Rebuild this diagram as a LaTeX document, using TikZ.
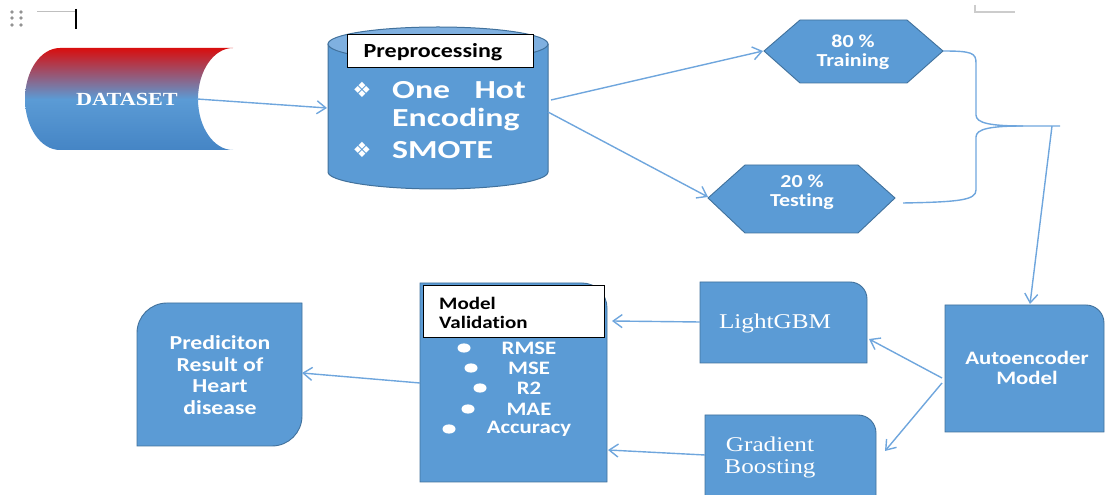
\documentclass[tikz,border=0pt]{standalone}
\usepackage{fontspec}
\setmainfont{Liberation Serif}[FakeStretch=1.2]
\newfontfamily\calfs{Carlito}[FakeStretch=1.2,Ligatures=NoCommon]
\newfontfamily\calw{Carlito}[FakeStretch=1.3,Ligatures=NoCommon]
\newfontfamily\djfont{DejaVu Sans}
\usetikzlibrary{arrows.meta}
\definecolor{wblue}{HTML}{5B9BD5}
\definecolor{wborder}{HTML}{41719C}
\definecolor{wtop}{HTML}{7FB0E0}
\definecolor{dred}{HTML}{D80E0E}
\definecolor{dsbot}{HTML}{4585C5}
\definecolor{lblue}{HTML}{6FA6DD}
\newcommand{\fsz}[2]{\fontsize{#1}{#2}\selectfont}
\begin{document}
\begin{tikzpicture}[x=1pt,y=1pt,
  shapebox/.style={fill=wblue,draw=wborder,line width=0.9pt},
  conn/.style={draw=lblue,line width=1.4pt,-{Straight Barb[length=9pt,width=13pt,line width=1.4pt]}},
  plain/.style={draw=lblue,line width=1.4pt},
  wtxt/.style={text=white,inner sep=0pt,align=center},
  ctxt/.style={wtxt,font=\calfs\bfseries\fsz{18.3}{19}},
  stxt/.style={wtxt,font=\fsz{21}{22}},
  bbox/.style={draw=black,fill=white,line width=1pt,inner sep=0pt},
  blt/.style={fill=white,draw=none}
]
\useasboundingbox (0,0) rectangle (1106,495);

% top-left decorations
\foreach \xx in {12,21}{\foreach \yy in {483,477,470}{\fill[gray!85] (\xx,\yy) circle[radius=1.8];}}
\draw[gray!50,line width=0.8pt] (37,484) -- (75,484);
\draw[black,line width=2.2pt] (76,486) -- (76,466);
\draw[gray!40,line width=1.2pt] (975,490) -- (975,483) -- (1015,483);

% DATASET cylinder
\shade[top color=dred,bottom color=dsbot,middle color=wblue]
  (233,447) -- (60,447) arc[start angle=90,end angle=270,x radius=35,y radius=51]
  -- (233,345) arc[start angle=270,end angle=90,x radius=35,y radius=51] -- cycle;
\node[wtxt,font=\bfseries\fsz{18.5}{20}] (ds) at (127,396) {DATASET};
\coordinate (dsR) at (197,396);

% Preprocessing cylinder
\fill[wblue] (328,451) -- (328,323) arc[start angle=180,end angle=360,x radius=110,y radius=17] -- (548,451) -- cycle;
\draw[wborder,line width=1pt] (328,451) -- (328,323) arc[start angle=180,end angle=360,x radius=110,y radius=17] -- (548,451);
\filldraw[fill=wtop,draw=wborder,line width=1pt] (438,451) ellipse[x radius=110,y radius=17];
\node[bbox,minimum width=186pt,minimum height=33pt] (prebox) at (440,443.5) {};
\node[inner sep=0pt,font=\calfs\bfseries\fsz{20}{20}] (pretxt) at (433,443) {Preprocessing};
\node[wtxt,font=\djfont\fsz{21}{22}] (b1) at (362,405) {❖};
\node[wtxt,font=\djfont\fsz{21}{22}] (b2) at (362,345) {❖};
\node[wtxt,anchor=west,font=\calw\bfseries\fsz{26}{28}] (one) at (392,405) {One};
\node[wtxt,anchor=east,font=\calw\bfseries\fsz{26}{28}] (hot) at (526,405) {Hot};
\node[wtxt,anchor=west,font=\calw\bfseries\fsz{26}{28}] (enc) at (392,375) {Encoding};
\node[wtxt,anchor=west,font=\calw\bfseries\fsz{26}{28}] (smote) at (392,345) {SMOTE};
\coordinate (preL) at (327,387);
\coordinate (preR1) at (551,395);
\coordinate (preR2) at (548,383);

% Training hexagon
\filldraw[shapebox] (764,444) -- (800,475) -- (907,475) -- (943,444) -- (907,412) -- (800,412) -- cycle;
\node[ctxt] (train) at (853,443) {80 \%\\Training};
\coordinate (trL) at (763,444);
\coordinate (trR) at (943,444);
% Testing hexagon
\filldraw[shapebox] (708,297) -- (745,330) -- (858,330) -- (895,297) -- (858,262) -- (745,262) -- cycle;
\node[ctxt] (test) at (802,303) {20 \%\\Testing};
\coordinate (teL) at (708,298);
\coordinate (teR) at (903,292);

% brace
\coordinate (brM) at (1023,369);
\coordinate (brE) at (1060,369);
\coordinate (brS) at (1052,369);
\draw[plain] (trR) .. controls (972,444) and (976,442) .. (976,432) -- (976,380)
  .. controls (976,372) and (990,369) .. (brM) -- (brE);
\draw[plain] (teR) .. controls (960,293) and (976,295) .. (976,305) -- (976,358)
  .. controls (976,366) and (990,369) .. (brM);

% Autoencoder box
\filldraw[shapebox] (945,63) -- (945,190) -- (1086,190) arc[start angle=90,end angle=0,radius=18] -- (1104,63) -- cycle;
\node[wtxt,font=\calfs\bfseries\fsz{19}{20.5}] (auto) at (1027,127) {Autoencoder\\Model};
\coordinate (autoT) at (1030,191);
\coordinate (autoL1) at (942,117);
\coordinate (autoL2) at (942,112);

% LightGBM box
\filldraw[shapebox] (700,132) -- (700,213) -- (850,213) arc[start angle=90,end angle=0,radius=17] -- (867,132) -- cycle;
\node[stxt] (lgbm) at (775,172) {LightGBM};
\coordinate (lgR) at (869,156);
\coordinate (lgL) at (700,173);

% Gradient Boosting box
\filldraw[shapebox] (705,-5) -- (705,80) -- (858,80) arc[start angle=90,end angle=0,radius=18] -- (876,-5) -- cycle;
\node[stxt] (gb) at (770,38) {Gradient\\Boosting};
\coordinate (gbR) at (885,44);
\coordinate (gbL) at (705,40);

% Model Validation box
\filldraw[shapebox] (420,13) -- (420,212) -- (582,212) arc[start angle=90,end angle=0,radius=25] -- (607,13) -- cycle;
\node[bbox,minimum width=181pt,minimum height=52pt] (mvbox) at (513.5,183) {};
\node[inner sep=0pt,anchor=west,align=left,font=\calfs\bfseries\fsz{17.5}{19}] (mvtxt) at (439,182.5) {Model\\Validation};
\foreach \bx/\by/\tx/\nm in {464/147/RMSE/m1,471/127/MSE/m2,480/107/R2/m3,468/86/MAE/m4,449/66/Accuracy/m5}{
  \fill[blt] (\bx,\by) ellipse[x radius=6.5,y radius=4.6];
  \node[wtxt,font=\calfs\bfseries\fsz{19}{20}] (\nm) at (529,\by) {\tx};
}
\coordinate (mvR1) at (612,174);
\coordinate (mvR2) at (608,45);
\coordinate (mvL) at (420,112);

% Prediction box
\filldraw[shapebox] (137,49) -- (137,162) arc[start angle=180,end angle=90,radius=30] -- (302,192) -- (302,79) arc[start angle=0,end angle=-90,radius=30] -- cycle;
\node[wtxt,font=\calfs\bfseries\fsz{19.8}{21.5}] (pred) at (220,120) {Prediciton\\Result of\\Heart\\disease};
\coordinate (predR) at (302,122);

% connectors
\draw[conn] (dsR) -- (preL);
\draw[conn] (preR1) -- (trL);
\draw[conn] (preR2) -- (teL);
\draw[conn] (brS) -- (autoT);
\draw[conn] (autoL1) -- (lgR);
\draw[conn] (autoL2) -- (gbR);
\draw[conn] (lgL) -- (mvR1);
\draw[conn] (gbL) -- (mvR2);
\draw[conn] (mvL) -- (predR);
\end{tikzpicture}
\end{document}
